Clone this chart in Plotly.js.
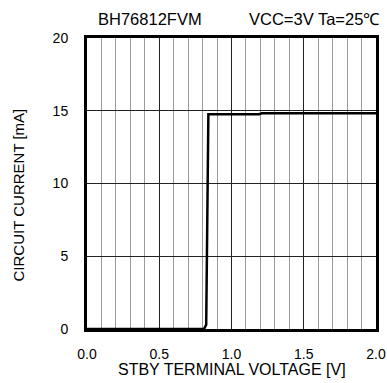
<!DOCTYPE html>
<html>
<head>
<meta charset="utf-8">
<script src="https://cdn.plot.ly/plotly-3.0.1.min.js"></script>
<style>html,body{margin:0;padding:0;background:#fff;}</style>
</head>
<body>
<div id="chart" style="width:387px;height:383px;"></div>
<script>
// STBY terminal voltage [V]
const voltage = [0.0, 0.5, 0.81, 0.825, 0.83, 0.835, 0.84, 1.0, 1.19, 1.21, 1.5, 2.0];
// Circuit current [mA]
const current = [0.0, 0.0, 0.0, 0.3, 7.0, 13.5, 14.76, 14.76, 14.76, 14.83, 14.83, 14.83];

const xTickVals = [0, 0.5, 1.0, 1.5, 2.0];
const xTickText = ["0.0", "0.5", "1.0", "1.5", "2.0"];
const yTickVals = [0, 5, 10, 15, 20];
const yTickText = ["0", "5", "10", "15", "20"];

const fontFam = "Liberation Sans, Arial, Helvetica, sans-serif";

const trace = {
  x: voltage, y: current, type: "scatter", mode: "lines",
  line: {color: "#000", width: 2.5},
  hoverinfo: "skip"
};

const layout = {
  width: 387, height: 383,
  margin: {l: 87, r: 11, t: 38, b: 54},
  paper_bgcolor: "#fff", plot_bgcolor: "#fff",
  showlegend: false,
  font: {family: fontFam, size: 14, color: "#000"},
  xaxis: {
    range: [0, 2.0], tickvals: xTickVals, ticktext: xTickText,
    showgrid: true, gridcolor: "#222", gridwidth: 1,
    minor: {dtick: 0.1, tick0: 0, showgrid: true, gridcolor: "#9a9a9a", gridwidth: 1, ticks: ""},
    showline: true, mirror: true, linecolor: "#000", linewidth: 3,
    ticks: "", zeroline: false,
    ticklabelstandoff: 10,
    tickfont: {family: fontFam, size: 14, color: "#000"}
  },
  yaxis: {
    range: [0, 20], tickvals: yTickVals, ticktext: yTickText,
    showgrid: true, gridcolor: "#222", gridwidth: 1,
    showline: true, mirror: true, linecolor: "#000", linewidth: 3,
    ticks: "", zeroline: false,
    ticklabelstandoff: 13,
    tickfont: {family: fontFam, size: 14, color: "#000"}
  },
  annotations: [
    {text: "BH76812FVM", xref: "paper", yref: "paper", x: 0.218, y: 1.0, yshift: 19,
     xanchor: "center", yanchor: "middle", showarrow: false, font: {family: fontFam, size: 16.5, color: "#000"}},
    {text: "VCC=3V Ta=25℃", xref: "paper", yref: "paper", x: 1.0, y: 1.0, yshift: 19, xshift: 6,
     xanchor: "right", yanchor: "middle", showarrow: false, font: {family: fontFam, size: 16.5, color: "#000"}},
    {text: "STBY TERMINAL VOLTAGE [V]", xref: "paper", yref: "paper", x: 0.5, y: 0, yshift: -40,
     xanchor: "center", yanchor: "middle", showarrow: false, font: {family: fontFam, size: 16, color: "#000"}},
    {text: "CIRCUIT CURRENT [mA]", xref: "paper", yref: "paper", x: 0, y: 0.5, xshift: -69, yshift: -12, textangle: -90,
     xanchor: "center", yanchor: "middle", showarrow: false, font: {family: fontFam, size: 15, color: "#000"}}
  ]
};

Plotly.newPlot("chart", [trace], layout, {staticPlot: true, displayModeBar: false});
</script>
</body>
</html>
